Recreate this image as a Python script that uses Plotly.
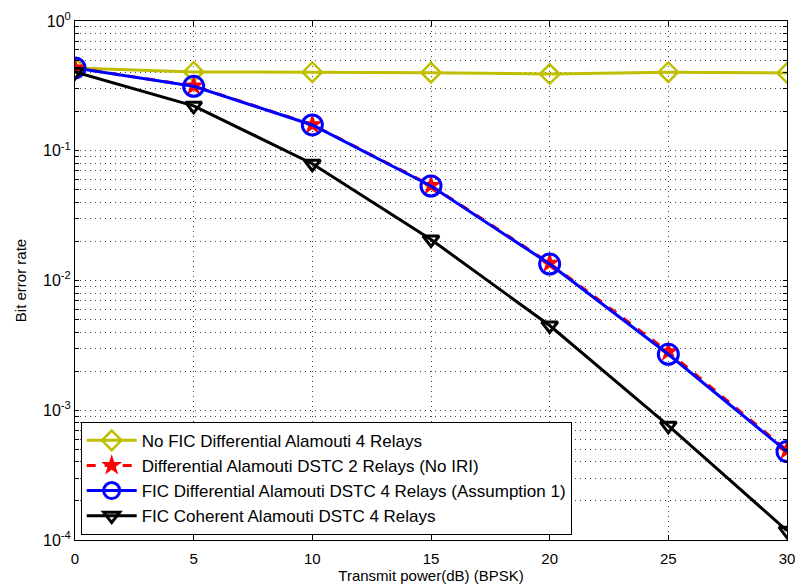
import plotly.graph_objects as go

snr = [0, 5, 10, 15, 20, 25, 30]
ber_nofic = [0.435, 0.405, 0.403, 0.400, 0.390, 0.403, 0.398]
ber_dstc2 = [0.435, 0.316, 0.159, 0.0540, 0.0136, 0.00282, 0.000492]
ber_fic_diff = [0.435, 0.314, 0.158, 0.0535, 0.0134, 0.00270, 0.000480]
ber_fic_coh = [0.405, 0.222, 0.0794, 0.0207, 0.0045, 0.00076, 0.000118]

names = [
    "No FIC Differential Alamouti 4 Relays",
    "Differential Alamouti DSTC 2 Relays (No IRI)",
    "FIC Differential Alamouti DSTC 4 Relays (Assumption 1)",
    "FIC Coherent Alamouti DSTC 4 Relays",
]

x_ticks = [0, 5, 10, 15, 20, 25, 30]
decades = [-4, -3, -2, -1, 0]

fig = go.Figure()
fig.add_trace(go.Scatter(x=snr, y=ber_nofic, name=names[0], mode="lines+markers",
                         line=dict(color="#BFBF00", width=3),
                         marker=dict(symbol="diamond-open", size=15, color="#BFBF00",
                                     line=dict(width=2.5, color="#BFBF00"))))
fig.add_trace(go.Scatter(x=snr, y=ber_dstc2, name=names[1], mode="lines+markers",
                         line=dict(color="#FF0000", width=3, dash="dash"),
                         marker=dict(symbol="star", size=16, color="#FF0000",
                                     line=dict(width=0))))
fig.add_trace(go.Scatter(x=snr, y=ber_fic_diff, name=names[2], mode="lines+markers",
                         line=dict(color="#0000FF", width=3),
                         marker=dict(symbol="circle-open", size=20, color="#0000FF",
                                     line=dict(width=3, color="#0000FF"))))
fig.add_trace(go.Scatter(x=snr, y=ber_fic_coh, name=names[3], mode="lines+markers",
                         line=dict(color="#000000", width=3),
                         marker=dict(symbol="triangle-down-open", size=14, color="#000000",
                                     line=dict(width=3, color="#000000"))))

yvals, ytext = [], []
for e in decades:
    yvals.append(10.0 ** e)
    ytext.append("10<sup>%d</sup>" % e)
    if e < 0:
        for k in range(2, 10):
            yvals.append(k * 10.0 ** e)
            ytext.append("")

grid_style = dict(showgrid=True, gridcolor="#444444", griddash="1px,4px", gridwidth=1)

fig.update_layout(
    width=795, height=584,
    margin=dict(l=75, r=8, t=21, b=44),
    paper_bgcolor="white", plot_bgcolor="white",
    font=dict(family="Liberation Sans, Arial, sans-serif", size=15, color="black"),
    showlegend=True,
    legend=dict(x=0.008, y=0.01, xanchor="left", yanchor="bottom",
                bgcolor="white", bordercolor="black", borderwidth=1,
                font=dict(size=17), tracegroupgap=0, itemwidth=50),
)
fig.update_xaxes(range=[0, 30], tickvals=x_ticks, ticktext=[str(v) for v in x_ticks],
                 showline=True, linecolor="black", linewidth=1, mirror="ticks",
                 ticks="inside", ticklen=5, tickcolor="black", ticklabeloverflow="allow",
                 ticklabelstandoff=5, automargin=False,
                 zeroline=False, tickfont=dict(size=15), **grid_style,
                 title=dict(text="Transmit power(dB) (BPSK)", standoff=3, font=dict(size=15)))
fig.update_yaxes(type="log", range=[-4, 0], tickvals=yvals, ticktext=ytext,
                 showline=True, linecolor="black", linewidth=1, mirror="ticks",
                 ticks="inside", ticklen=4, tickcolor="black", automargin=False,
                 zeroline=False, tickfont=dict(size=16), **grid_style,
                 title=dict(text="Bit error rate", standoff=12, font=dict(size=15)))

fig.write_html("out.html")
